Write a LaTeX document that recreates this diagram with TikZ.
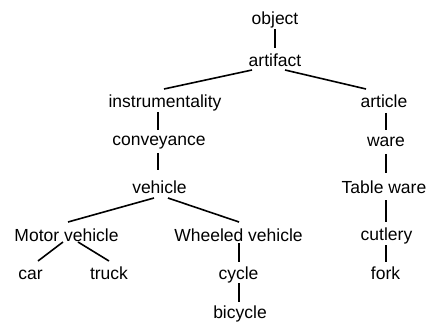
\documentclass[tikz,border=0pt]{standalone}
\usepackage{fontspec}
\setmainfont{Liberation Sans}
\begin{document}
\begin{tikzpicture}[x=1pt,y=-1pt,
  lbl/.style={anchor=base,inner sep=0pt,font=\fontsize{17.5}{20}\selectfont},
  edge/.style={line width=1.6pt}]
\useasboundingbox (0,0) rectangle (433,323);
\node[lbl] (object) at (275,25) {object};
\node[lbl] (artifact) at (275,67) {artifact};
\node[lbl] (instr) at (165,108) {instrumentality};
\node[lbl] (article) at (384,108) {article};
\node[lbl] (conv) at (159,146) {conveyance};
\node[lbl] (ware) at (386,147) {ware};
\node[lbl] (vehicle) at (159.5,193) {vehicle};
\node[lbl] (table) at (384,193) {Table ware};
\node[lbl] (motor) at (66.5,241) {Motor vehicle};
\node[lbl] (wheeled) at (238.5,241) {Wheeled vehicle};
\node[lbl] (cutlery) at (386.5,240) {cutlery};
\node[lbl] (car) at (30.5,279) {car};
\node[lbl] (truck) at (109,279) {truck};
\node[lbl] (cycle) at (238.5,279) {cycle};
\node[lbl] (fork) at (385.5,279) {fork};
\node[lbl] (bicycle) at (240,318) {bicycle};
\draw[edge] ([shift={(0,4)}]object.base) -- ([shift={(0,-19)}]artifact.base);
\draw[edge] ([shift={(-23,3)}]artifact.base) -- ([shift={(-1,-19)}]instr.base);
\draw[edge] ([shift={(10,3)}]artifact.base) -- ([shift={(-18,-19)}]article.base);
\draw[edge] ([shift={(-7,4)}]instr.base) -- ([shift={(-1,-16)}]conv.base);
\draw[edge] ([shift={(-1,7)}]conv.base) -- ([shift={(-1.5,-23)}]vehicle.base);
\draw[edge] ([shift={(2,5)}]article.base) -- ([shift={(0,-17)}]ware.base);
\draw[edge] ([shift={(0,7)}]ware.base) -- ([shift={(2,-20)}]table.base);
\draw[edge] ([shift={(-5.5,5)}]vehicle.base) -- ([shift={(1.5,-19)}]motor.base);
\draw[edge] ([shift={(8.5,5)}]vehicle.base) -- ([shift={(0.5,-19)}]wheeled.base);
\draw[edge] ([shift={(2,7)}]table.base) -- ([shift={(-0.5,-18)}]cutlery.base);
\draw[edge] ([shift={(-3.5,1)}]motor.base) -- ([shift={(7.5,-18)}]car.base);
\draw[edge] ([shift={(11.5,1)}]motor.base) -- ([shift={(0,-18)}]truck.base);
\draw[edge] ([shift={(0.5,2)}]wheeled.base) -- ([shift={(0.5,-17)}]cycle.base);
\draw[edge] ([shift={(0.5,4)}]cycle.base) -- ([shift={(-1,-16)}]bicycle.base);
\draw[edge] ([shift={(-0.5,5)}]cutlery.base) -- ([shift={(0.5,-17)}]fork.base);
\end{tikzpicture}
\end{document}
